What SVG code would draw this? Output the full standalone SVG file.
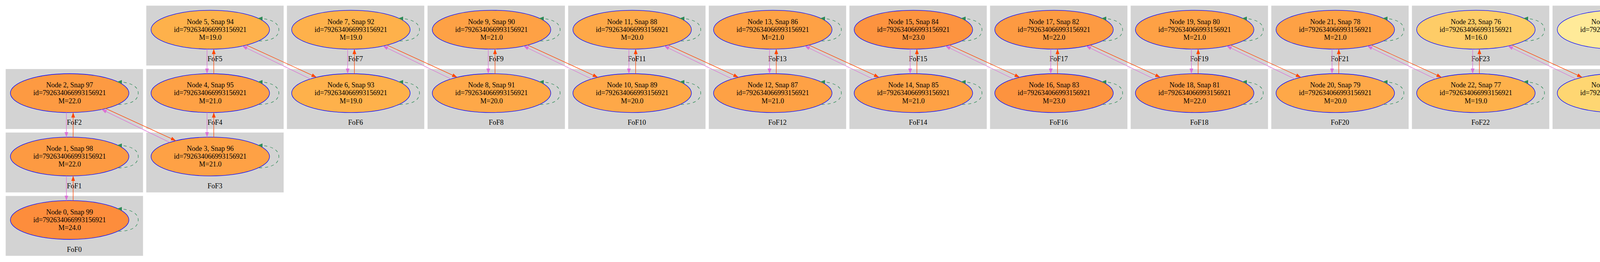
<svg xmlns="http://www.w3.org/2000/svg" width="7581" height="672" viewBox="0 0 7581 672">
<style>
.cl rect{fill:#D3D3D3;stroke:#D3D3D3;stroke-width:1}
text{font-family:"Liberation Serif","Times New Roman",serif;font-size:18px;text-anchor:middle;fill:#000}
.nd ellipse{stroke:#0000FF;stroke-width:1.3}
.or{fill:none;stroke:#FF4500;stroke-width:1.3;marker-end:url(#ah-or)}
.vi{fill:none;stroke:#DA70D6;stroke-width:1.3;marker-end:url(#ah-vi)}
.lp{fill:none;stroke:#2E8B57;stroke-width:1.3;stroke-dasharray:7.7,7.7;marker-end:url(#ah-lp)}
.m24{fill:#FD8D3C}.m23{fill:#FD933F}.m22{fill:#FD9A42}.m21{fill:#FEA145}.m20{fill:#FEA848}.m19{fill:#FEB14B}
.m16{fill:#FECC67}.m15{fill:#FED672}.m13{fill:#FEE38B}.m12{fill:#FFEA99}.m10{fill:#FFF7B9}.m9{fill:#FFFFCC}
</style>
<defs>
<marker id="ah-or" viewBox="0 0 13 10" refX="13" refY="5" markerWidth="13" markerHeight="10" markerUnits="userSpaceOnUse" orient="auto"><path d="M0,0.2L13,5L0,9.8Z" fill="#FF4500"/></marker>
<marker id="ah-vi" viewBox="0 0 13 10" refX="13" refY="5" markerWidth="13" markerHeight="10" markerUnits="userSpaceOnUse" orient="auto"><path d="M0,0.2L13,5L0,9.8Z" fill="#DA70D6"/></marker>
<marker id="ah-lp" viewBox="0 0 13 10" refX="13" refY="5" markerWidth="13" markerHeight="10" markerUnits="userSpaceOnUse" orient="auto"><path d="M0,0.2L13,5L0,9.8Z" fill="#2E8B57"/></marker>
</defs>
<rect width="7581" height="672" fill="#FFFFFF"/>
<g id="clusters">
<g id="clust0" class="cl"><rect x="15" y="503.1" width="350.7" height="152.6"/><text x="190.35" y="645.5">FoF0</text></g>
<g id="clust1" class="cl"><rect x="15" y="340.4" width="350.7" height="152.6"/><text x="190.35" y="482.8">FoF1</text></g>
<g id="clust2" class="cl"><rect x="15" y="177.7" width="350.7" height="152.6"/><text x="190.35" y="320.1">FoF2</text></g>
<g id="clust3" class="cl"><rect x="375" y="340.4" width="350.7" height="152.6"/><text x="550.35" y="482.8">FoF3</text></g>
<g id="clust4" class="cl"><rect x="375" y="177.7" width="350.7" height="152.6"/><text x="550.35" y="320.1">FoF4</text></g>
<g id="clust5" class="cl"><rect x="375" y="15" width="350.7" height="152.6"/><text x="550.35" y="157.4">FoF5</text></g>
<g id="clust6" class="cl"><rect x="735" y="177.7" width="350.7" height="152.6"/><text x="910.35" y="320.1">FoF6</text></g>
<g id="clust7" class="cl"><rect x="735" y="15" width="350.7" height="152.6"/><text x="910.35" y="157.4">FoF7</text></g>
<g id="clust8" class="cl"><rect x="1095" y="177.7" width="350.7" height="152.6"/><text x="1270.35" y="320.1">FoF8</text></g>
<g id="clust9" class="cl"><rect x="1095" y="15" width="350.7" height="152.6"/><text x="1270.35" y="157.4">FoF9</text></g>
<g id="clust10" class="cl"><rect x="1455" y="177.7" width="350.7" height="152.6"/><text x="1630.35" y="320.1">FoF10</text></g>
<g id="clust11" class="cl"><rect x="1455" y="15" width="350.7" height="152.6"/><text x="1630.35" y="157.4">FoF11</text></g>
<g id="clust12" class="cl"><rect x="1815" y="177.7" width="350.7" height="152.6"/><text x="1990.35" y="320.1">FoF12</text></g>
<g id="clust13" class="cl"><rect x="1815" y="15" width="350.7" height="152.6"/><text x="1990.35" y="157.4">FoF13</text></g>
<g id="clust14" class="cl"><rect x="2175" y="177.7" width="350.7" height="152.6"/><text x="2350.35" y="320.1">FoF14</text></g>
<g id="clust15" class="cl"><rect x="2175" y="15" width="350.7" height="152.6"/><text x="2350.35" y="157.4">FoF15</text></g>
<g id="clust16" class="cl"><rect x="2535" y="177.7" width="350.7" height="152.6"/><text x="2710.35" y="320.1">FoF16</text></g>
<g id="clust17" class="cl"><rect x="2535" y="15" width="350.7" height="152.6"/><text x="2710.35" y="157.4">FoF17</text></g>
<g id="clust18" class="cl"><rect x="2895" y="177.7" width="350.7" height="152.6"/><text x="3070.35" y="320.1">FoF18</text></g>
<g id="clust19" class="cl"><rect x="2895" y="15" width="350.7" height="152.6"/><text x="3070.35" y="157.4">FoF19</text></g>
<g id="clust20" class="cl"><rect x="3255" y="177.7" width="350.7" height="152.6"/><text x="3430.35" y="320.1">FoF20</text></g>
<g id="clust21" class="cl"><rect x="3255" y="15" width="350.7" height="152.6"/><text x="3430.35" y="157.4">FoF21</text></g>
<g id="clust22" class="cl"><rect x="3615" y="177.7" width="350.7" height="152.6"/><text x="3790.35" y="320.1">FoF22</text></g>
<g id="clust23" class="cl"><rect x="3615" y="15" width="350.7" height="152.6"/><text x="3790.35" y="157.4">FoF23</text></g>
<g id="clust24" class="cl"><rect x="3975" y="177.7" width="350.7" height="152.6"/><text x="4150.35" y="320.1">FoF24</text></g>
<g id="clust25" class="cl"><rect x="3975" y="15" width="350.7" height="152.6"/><text x="4150.35" y="157.4">FoF25</text></g>
<g id="clust26" class="cl"><rect x="4335" y="177.7" width="350.7" height="152.6"/><text x="4510.35" y="320.1">FoF26</text></g>
<g id="clust27" class="cl"><rect x="4335" y="15" width="350.7" height="152.6"/><text x="4510.35" y="157.4">FoF27</text></g>
<g id="clust28" class="cl"><rect x="4695" y="177.7" width="350.7" height="152.6"/><text x="4870.35" y="320.1">FoF28</text></g>
<g id="clust29" class="cl"><rect x="4695" y="15" width="350.7" height="152.6"/><text x="4870.35" y="157.4">FoF29</text></g>
<g id="clust30" class="cl"><rect x="5055" y="177.7" width="350.7" height="152.6"/><text x="5230.35" y="320.1">FoF30</text></g>
<g id="clust31" class="cl"><rect x="5055" y="15" width="350.7" height="152.6"/><text x="5230.35" y="157.4">FoF31</text></g>
<g id="clust32" class="cl"><rect x="5415" y="177.7" width="350.7" height="152.6"/><text x="5590.35" y="320.1">FoF32</text></g>
<g id="clust33" class="cl"><rect x="5415" y="15" width="350.7" height="152.6"/><text x="5590.35" y="157.4">FoF33</text></g>
<g id="clust34" class="cl"><rect x="5775" y="177.7" width="350.7" height="152.6"/><text x="5950.35" y="320.1">FoF34</text></g>
<g id="clust35" class="cl"><rect x="5775" y="15" width="350.7" height="152.6"/><text x="5950.35" y="157.4">FoF35</text></g>
<g id="clust36" class="cl"><rect x="6135" y="177.7" width="350.7" height="152.6"/><text x="6310.35" y="320.1">FoF36</text></g>
<g id="clust37" class="cl"><rect x="6135" y="15" width="350.7" height="152.6"/><text x="6310.35" y="157.4">FoF37</text></g>
<g id="clust38" class="cl"><rect x="6495" y="177.7" width="350.7" height="152.6"/><text x="6670.35" y="320.1">FoF38</text></g>
<g id="clust39" class="cl"><rect x="6495" y="15" width="350.7" height="152.6"/><text x="6670.35" y="157.4">FoF39</text></g>
<g id="clust40" class="cl"><rect x="6855" y="177.7" width="350.7" height="152.6"/><text x="7030.35" y="320.1">FoF40</text></g>
<g id="clust41" class="cl"><rect x="6855" y="15" width="350.7" height="152.6"/><text x="7030.35" y="157.4">FoF41</text></g>
<g id="clust42" class="cl"><rect x="7215" y="177.7" width="350.7" height="152.6"/><text x="7390.35" y="320.1">FoF42</text></g>
<g id="clust43" class="cl"><rect x="7215" y="15" width="350.7" height="152.6"/><text x="7390.35" y="157.4">FoF43</text></g>
</g>
<g id="nodes">
<g id="node0" class="nd" transform="translate(178.3,564.2)"><ellipse class="m24" rx="151.7" ry="49.8"/><text y="-14.6">Node 0, Snap 99</text><text y="5.6">id=792634066993156921</text><text y="25.8">M=24.0</text></g>
<g id="node1" class="nd" transform="translate(178.3,401.5)"><ellipse class="m22" rx="151.7" ry="49.8"/><text y="-14.6">Node 1, Snap 98</text><text y="5.6">id=792634066993156921</text><text y="25.8">M=22.0</text></g>
<g id="node2" class="nd" transform="translate(178.3,238.8)"><ellipse class="m22" rx="151.7" ry="49.8"/><text y="-14.6">Node 2, Snap 97</text><text y="5.6">id=792634066993156921</text><text y="25.8">M=22.0</text></g>
<g id="node3" class="nd" transform="translate(538.3,401.5)"><ellipse class="m21" rx="151.7" ry="49.8"/><text y="-14.6">Node 3, Snap 96</text><text y="5.6">id=792634066993156921</text><text y="25.8">M=21.0</text></g>
<g id="node4" class="nd" transform="translate(538.3,238.8)"><ellipse class="m21" rx="151.7" ry="49.8"/><text y="-14.6">Node 4, Snap 95</text><text y="5.6">id=792634066993156921</text><text y="25.8">M=21.0</text></g>
<g id="node5" class="nd" transform="translate(538.3,76.1)"><ellipse class="m19" rx="151.7" ry="49.8"/><text y="-14.6">Node 5, Snap 94</text><text y="5.6">id=792634066993156921</text><text y="25.8">M=19.0</text></g>
<g id="node6" class="nd" transform="translate(898.3,238.8)"><ellipse class="m19" rx="151.7" ry="49.8"/><text y="-14.6">Node 6, Snap 93</text><text y="5.6">id=792634066993156921</text><text y="25.8">M=19.0</text></g>
<g id="node7" class="nd" transform="translate(898.3,76.1)"><ellipse class="m19" rx="151.7" ry="49.8"/><text y="-14.6">Node 7, Snap 92</text><text y="5.6">id=792634066993156921</text><text y="25.8">M=19.0</text></g>
<g id="node8" class="nd" transform="translate(1258.3,238.8)"><ellipse class="m20" rx="151.7" ry="49.8"/><text y="-14.6">Node 8, Snap 91</text><text y="5.6">id=792634066993156921</text><text y="25.8">M=20.0</text></g>
<g id="node9" class="nd" transform="translate(1258.3,76.1)"><ellipse class="m21" rx="151.7" ry="49.8"/><text y="-14.6">Node 9, Snap 90</text><text y="5.6">id=792634066993156921</text><text y="25.8">M=21.0</text></g>
<g id="node10" class="nd" transform="translate(1618.3,238.8)"><ellipse class="m20" rx="151.7" ry="49.8"/><text y="-14.6">Node 10, Snap 89</text><text y="5.6">id=792634066993156921</text><text y="25.8">M=20.0</text></g>
<g id="node11" class="nd" transform="translate(1618.3,76.1)"><ellipse class="m20" rx="151.7" ry="49.8"/><text y="-14.6">Node 11, Snap 88</text><text y="5.6">id=792634066993156921</text><text y="25.8">M=20.0</text></g>
<g id="node12" class="nd" transform="translate(1978.3,238.8)"><ellipse class="m21" rx="151.7" ry="49.8"/><text y="-14.6">Node 12, Snap 87</text><text y="5.6">id=792634066993156921</text><text y="25.8">M=21.0</text></g>
<g id="node13" class="nd" transform="translate(1978.3,76.1)"><ellipse class="m21" rx="151.7" ry="49.8"/><text y="-14.6">Node 13, Snap 86</text><text y="5.6">id=792634066993156921</text><text y="25.8">M=21.0</text></g>
<g id="node14" class="nd" transform="translate(2338.3,238.8)"><ellipse class="m21" rx="151.7" ry="49.8"/><text y="-14.6">Node 14, Snap 85</text><text y="5.6">id=792634066993156921</text><text y="25.8">M=21.0</text></g>
<g id="node15" class="nd" transform="translate(2338.3,76.1)"><ellipse class="m23" rx="151.7" ry="49.8"/><text y="-14.6">Node 15, Snap 84</text><text y="5.6">id=792634066993156921</text><text y="25.8">M=23.0</text></g>
<g id="node16" class="nd" transform="translate(2698.3,238.8)"><ellipse class="m23" rx="151.7" ry="49.8"/><text y="-14.6">Node 16, Snap 83</text><text y="5.6">id=792634066993156921</text><text y="25.8">M=23.0</text></g>
<g id="node17" class="nd" transform="translate(2698.3,76.1)"><ellipse class="m22" rx="151.7" ry="49.8"/><text y="-14.6">Node 17, Snap 82</text><text y="5.6">id=792634066993156921</text><text y="25.8">M=22.0</text></g>
<g id="node18" class="nd" transform="translate(3058.3,238.8)"><ellipse class="m22" rx="151.7" ry="49.8"/><text y="-14.6">Node 18, Snap 81</text><text y="5.6">id=792634066993156921</text><text y="25.8">M=22.0</text></g>
<g id="node19" class="nd" transform="translate(3058.3,76.1)"><ellipse class="m21" rx="151.7" ry="49.8"/><text y="-14.6">Node 19, Snap 80</text><text y="5.6">id=792634066993156921</text><text y="25.8">M=21.0</text></g>
<g id="node20" class="nd" transform="translate(3418.3,238.8)"><ellipse class="m20" rx="151.7" ry="49.8"/><text y="-14.6">Node 20, Snap 79</text><text y="5.6">id=792634066993156921</text><text y="25.8">M=20.0</text></g>
<g id="node21" class="nd" transform="translate(3418.3,76.1)"><ellipse class="m21" rx="151.7" ry="49.8"/><text y="-14.6">Node 21, Snap 78</text><text y="5.6">id=792634066993156921</text><text y="25.8">M=21.0</text></g>
<g id="node22" class="nd" transform="translate(3778.3,238.8)"><ellipse class="m19" rx="151.7" ry="49.8"/><text y="-14.6">Node 22, Snap 77</text><text y="5.6">id=792634066993156921</text><text y="25.8">M=19.0</text></g>
<g id="node23" class="nd" transform="translate(3778.3,76.1)"><ellipse class="m16" rx="151.7" ry="49.8"/><text y="-14.6">Node 23, Snap 76</text><text y="5.6">id=792634066993156921</text><text y="25.8">M=16.0</text></g>
<g id="node24" class="nd" transform="translate(4138.3,238.8)"><ellipse class="m15" rx="151.7" ry="49.8"/><text y="-14.6">Node 24, Snap 75</text><text y="5.6">id=792634066993156921</text><text y="25.8">M=15.0</text></g>
<g id="node25" class="nd" transform="translate(4138.3,76.1)"><ellipse class="m12" rx="151.7" ry="49.8"/><text y="-14.6">Node 25, Snap 74</text><text y="5.6">id=792634066993156921</text><text y="25.8">M=12.0</text></g>
<g id="node26" class="nd" transform="translate(4498.3,238.8)"><ellipse class="m12" rx="151.7" ry="49.8"/><text y="-14.6">Node 26, Snap 73</text><text y="5.6">id=792634066993156921</text><text y="25.8">M=12.0</text></g>
<g id="node27" class="nd" transform="translate(4498.3,76.1)"><ellipse class="m13" rx="151.7" ry="49.8"/><text y="-14.6">Node 27, Snap 72</text><text y="5.6">id=792634066993156921</text><text y="25.8">M=13.0</text></g>
<g id="node28" class="nd" transform="translate(4858.3,238.8)"><ellipse class="m13" rx="151.7" ry="49.8"/><text y="-14.6">Node 28, Snap 71</text><text y="5.6">id=792634066993156921</text><text y="25.8">M=13.0</text></g>
<g id="node29" class="nd" transform="translate(4858.3,76.1)"><ellipse class="m13" rx="151.7" ry="49.8"/><text y="-14.6">Node 29, Snap 70</text><text y="5.6">id=792634066993156921</text><text y="25.8">M=13.0</text></g>
<g id="node30" class="nd" transform="translate(5218.3,238.8)"><ellipse class="m13" rx="151.7" ry="49.8"/><text y="-14.6">Node 30, Snap 69</text><text y="5.6">id=792634066993156921</text><text y="25.8">M=13.0</text></g>
<g id="node31" class="nd" transform="translate(5218.3,76.1)"><ellipse class="m12" rx="151.7" ry="49.8"/><text y="-14.6">Node 31, Snap 68</text><text y="5.6">id=792634066993156921</text><text y="25.8">M=12.0</text></g>
<g id="node32" class="nd" transform="translate(5578.3,238.8)"><ellipse class="m13" rx="151.7" ry="49.8"/><text y="-14.6">Node 32, Snap 67</text><text y="5.6">id=792634066993156921</text><text y="25.8">M=13.0</text></g>
<g id="node33" class="nd" transform="translate(5578.3,76.1)"><ellipse class="m12" rx="151.7" ry="49.8"/><text y="-14.6">Node 33, Snap 66</text><text y="5.6">id=792634066993156921</text><text y="25.8">M=12.0</text></g>
<g id="node34" class="nd" transform="translate(5938.3,238.8)"><ellipse class="m12" rx="151.7" ry="49.8"/><text y="-14.6">Node 34, Snap 65</text><text y="5.6">id=792634066993156921</text><text y="25.8">M=12.0</text></g>
<g id="node35" class="nd" transform="translate(5938.3,76.1)"><ellipse class="m9" rx="151.7" ry="49.8"/><text y="-14.6">Node 35, Snap 64</text><text y="5.6">id=792634066993156921</text><text y="25.8">M=9.0</text></g>
<g id="node36" class="nd" transform="translate(6298.3,238.8)"><ellipse class="m10" rx="151.7" ry="49.8"/><text y="-14.6">Node 36, Snap 63</text><text y="5.6">id=792634066993156921</text><text y="25.8">M=10.0</text></g>
<g id="node37" class="nd" transform="translate(6298.3,76.1)"><ellipse class="m10" rx="151.7" ry="49.8"/><text y="-14.6">Node 37, Snap 62</text><text y="5.6">id=792634066993156921</text><text y="25.8">M=10.0</text></g>
<g id="node38" class="nd" transform="translate(6658.3,238.8)"><ellipse class="m10" rx="151.7" ry="49.8"/><text y="-14.6">Node 38, Snap 61</text><text y="5.6">id=792634066993156921</text><text y="25.8">M=10.0</text></g>
<g id="node39" class="nd" transform="translate(6658.3,76.1)"><ellipse class="m10" rx="151.7" ry="49.8"/><text y="-14.6">Node 39, Snap 60</text><text y="5.6">id=792634066993156921</text><text y="25.8">M=10.0</text></g>
<g id="node40" class="nd" transform="translate(7018.3,238.8)"><ellipse class="m9" rx="151.7" ry="49.8"/><text y="-14.6">Node 40, Snap 59</text><text y="5.6">id=792634066993156921</text><text y="25.8">M=9.0</text></g>
<g id="node41" class="nd" transform="translate(7018.3,76.1)"><ellipse class="m9" rx="151.7" ry="49.8"/><text y="-14.6">Node 41, Snap 58</text><text y="5.6">id=792634066993156921</text><text y="25.8">M=9.0</text></g>
<g id="node42" class="nd" transform="translate(7378.3,238.8)"><ellipse class="m9" rx="151.7" ry="49.8"/><text y="-14.6">Node 42, Snap 57</text><text y="5.6">id=792634066993156921</text><text y="25.8">M=9.0</text></g>
<g id="node43" class="nd" transform="translate(7378.3,76.1)"><ellipse class="m10" rx="151.7" ry="49.8"/><text y="-14.6">Node 43, Snap 56</text><text y="5.6">id=792634066993156921</text><text y="25.8">M=10.0</text></g>
</g>
<g id="connectors">
<g id="vertical">
<path class="or" transform="translate(178.3,401.5)" d="M9,113V49.7"/><path class="vi" transform="translate(178.3,401.5)" d="M-8.3,49.7V113"/>
<path class="or" transform="translate(178.3,238.8)" d="M9,113V49.7"/><path class="vi" transform="translate(178.3,238.8)" d="M-8.3,49.7V113"/>
<path class="or" transform="translate(538.3,238.8)" d="M9,113V49.7"/><path class="vi" transform="translate(538.3,238.8)" d="M-8.3,49.7V113"/>
<path class="or" transform="translate(538.3,76.1)" d="M9,113V49.7"/><path class="vi" transform="translate(538.3,76.1)" d="M-8.3,49.7V113"/>
<path class="or" transform="translate(898.3,76.1)" d="M9,113V49.7"/><path class="vi" transform="translate(898.3,76.1)" d="M-8.3,49.7V113"/>
<path class="or" transform="translate(1258.3,76.1)" d="M9,113V49.7"/><path class="vi" transform="translate(1258.3,76.1)" d="M-8.3,49.7V113"/>
<path class="or" transform="translate(1618.3,76.1)" d="M9,113V49.7"/><path class="vi" transform="translate(1618.3,76.1)" d="M-8.3,49.7V113"/>
<path class="or" transform="translate(1978.3,76.1)" d="M9,113V49.7"/><path class="vi" transform="translate(1978.3,76.1)" d="M-8.3,49.7V113"/>
<path class="or" transform="translate(2338.3,76.1)" d="M9,113V49.7"/><path class="vi" transform="translate(2338.3,76.1)" d="M-8.3,49.7V113"/>
<path class="or" transform="translate(2698.3,76.1)" d="M9,113V49.7"/><path class="vi" transform="translate(2698.3,76.1)" d="M-8.3,49.7V113"/>
<path class="or" transform="translate(3058.3,76.1)" d="M9,113V49.7"/><path class="vi" transform="translate(3058.3,76.1)" d="M-8.3,49.7V113"/>
<path class="or" transform="translate(3418.3,76.1)" d="M9,113V49.7"/><path class="vi" transform="translate(3418.3,76.1)" d="M-8.3,49.7V113"/>
<path class="or" transform="translate(3778.3,76.1)" d="M9,113V49.7"/><path class="vi" transform="translate(3778.3,76.1)" d="M-8.3,49.7V113"/>
<path class="or" transform="translate(4138.3,76.1)" d="M9,113V49.7"/><path class="vi" transform="translate(4138.3,76.1)" d="M-8.3,49.7V113"/>
<path class="or" transform="translate(4498.3,76.1)" d="M9,113V49.7"/><path class="vi" transform="translate(4498.3,76.1)" d="M-8.3,49.7V113"/>
<path class="or" transform="translate(4858.3,76.1)" d="M9,113V49.7"/><path class="vi" transform="translate(4858.3,76.1)" d="M-8.3,49.7V113"/>
<path class="or" transform="translate(5218.3,76.1)" d="M9,113V49.7"/><path class="vi" transform="translate(5218.3,76.1)" d="M-8.3,49.7V113"/>
<path class="or" transform="translate(5578.3,76.1)" d="M9,113V49.7"/><path class="vi" transform="translate(5578.3,76.1)" d="M-8.3,49.7V113"/>
<path class="or" transform="translate(5938.3,76.1)" d="M9,113V49.7"/><path class="vi" transform="translate(5938.3,76.1)" d="M-8.3,49.7V113"/>
<path class="or" transform="translate(6298.3,76.1)" d="M9,113V49.7"/><path class="vi" transform="translate(6298.3,76.1)" d="M-8.3,49.7V113"/>
<path class="or" transform="translate(6658.3,76.1)" d="M9,113V49.7"/><path class="vi" transform="translate(6658.3,76.1)" d="M-8.3,49.7V113"/>
<path class="or" transform="translate(7018.3,76.1)" d="M9,113V49.7"/><path class="vi" transform="translate(7018.3,76.1)" d="M-8.3,49.7V113"/>
<path class="or" transform="translate(7378.3,76.1)" d="M9,113V49.7"/><path class="vi" transform="translate(7378.3,76.1)" d="M-8.3,49.7V113"/>
</g>
<g id="diagonal">
<path class="or" transform="translate(178.3,238.8)" d="M92.5,39.5L272,122.1"/><path class="vi" transform="translate(178.3,238.8)" d="M256,126.4L82,41.9"/>
<path class="or" transform="translate(538.3,76.1)" d="M92.5,39.5L272,122.1"/><path class="vi" transform="translate(538.3,76.1)" d="M256,126.4L82,41.9"/>
<path class="or" transform="translate(898.3,76.1)" d="M92.5,39.5L272,122.1"/><path class="vi" transform="translate(898.3,76.1)" d="M256,126.4L82,41.9"/>
<path class="or" transform="translate(1258.3,76.1)" d="M92.5,39.5L272,122.1"/><path class="vi" transform="translate(1258.3,76.1)" d="M256,126.4L82,41.9"/>
<path class="or" transform="translate(1618.3,76.1)" d="M92.5,39.5L272,122.1"/><path class="vi" transform="translate(1618.3,76.1)" d="M256,126.4L82,41.9"/>
<path class="or" transform="translate(1978.3,76.1)" d="M92.5,39.5L272,122.1"/><path class="vi" transform="translate(1978.3,76.1)" d="M256,126.4L82,41.9"/>
<path class="or" transform="translate(2338.3,76.1)" d="M92.5,39.5L272,122.1"/><path class="vi" transform="translate(2338.3,76.1)" d="M256,126.4L82,41.9"/>
<path class="or" transform="translate(2698.3,76.1)" d="M92.5,39.5L272,122.1"/><path class="vi" transform="translate(2698.3,76.1)" d="M256,126.4L82,41.9"/>
<path class="or" transform="translate(3058.3,76.1)" d="M92.5,39.5L272,122.1"/><path class="vi" transform="translate(3058.3,76.1)" d="M256,126.4L82,41.9"/>
<path class="or" transform="translate(3418.3,76.1)" d="M92.5,39.5L272,122.1"/><path class="vi" transform="translate(3418.3,76.1)" d="M256,126.4L82,41.9"/>
<path class="or" transform="translate(3778.3,76.1)" d="M92.5,39.5L272,122.1"/><path class="vi" transform="translate(3778.3,76.1)" d="M256,126.4L82,41.9"/>
<path class="or" transform="translate(4138.3,76.1)" d="M92.5,39.5L272,122.1"/><path class="vi" transform="translate(4138.3,76.1)" d="M256,126.4L82,41.9"/>
<path class="or" transform="translate(4498.3,76.1)" d="M92.5,39.5L272,122.1"/><path class="vi" transform="translate(4498.3,76.1)" d="M256,126.4L82,41.9"/>
<path class="or" transform="translate(4858.3,76.1)" d="M92.5,39.5L272,122.1"/><path class="vi" transform="translate(4858.3,76.1)" d="M256,126.4L82,41.9"/>
<path class="or" transform="translate(5218.3,76.1)" d="M92.5,39.5L272,122.1"/><path class="vi" transform="translate(5218.3,76.1)" d="M256,126.4L82,41.9"/>
<path class="or" transform="translate(5578.3,76.1)" d="M92.5,39.5L272,122.1"/><path class="vi" transform="translate(5578.3,76.1)" d="M256,126.4L82,41.9"/>
<path class="or" transform="translate(5938.3,76.1)" d="M92.5,39.5L272,122.1"/><path class="vi" transform="translate(5938.3,76.1)" d="M256,126.4L82,41.9"/>
<path class="or" transform="translate(6298.3,76.1)" d="M92.5,39.5L272,122.1"/><path class="vi" transform="translate(6298.3,76.1)" d="M256,126.4L82,41.9"/>
<path class="or" transform="translate(6658.3,76.1)" d="M92.5,39.5L272,122.1"/><path class="vi" transform="translate(6658.3,76.1)" d="M256,126.4L82,41.9"/>
<path class="or" transform="translate(7018.3,76.1)" d="M92.5,39.5L272,122.1"/><path class="vi" transform="translate(7018.3,76.1)" d="M256,126.4L82,41.9"/>
</g>
<g id="selfloops">
<path class="lp" transform="translate(178.3,564.2)" d="M125,29C150,29 175.5,22 175.5,0C175.5,-20 150,-28.8 121,-28.8"/>
<path class="lp" transform="translate(178.3,401.5)" d="M125,29C150,29 175.5,22 175.5,0C175.5,-20 150,-28.8 121,-28.8"/>
<path class="lp" transform="translate(178.3,238.8)" d="M125,29C150,29 175.5,22 175.5,0C175.5,-20 150,-28.8 121,-28.8"/>
<path class="lp" transform="translate(538.3,401.5)" d="M125,29C150,29 175.5,22 175.5,0C175.5,-20 150,-28.8 121,-28.8"/>
<path class="lp" transform="translate(538.3,238.8)" d="M125,29C150,29 175.5,22 175.5,0C175.5,-20 150,-28.8 121,-28.8"/>
<path class="lp" transform="translate(538.3,76.1)" d="M125,29C150,29 175.5,22 175.5,0C175.5,-20 150,-28.8 121,-28.8"/>
<path class="lp" transform="translate(898.3,238.8)" d="M125,29C150,29 175.5,22 175.5,0C175.5,-20 150,-28.8 121,-28.8"/>
<path class="lp" transform="translate(898.3,76.1)" d="M125,29C150,29 175.5,22 175.5,0C175.5,-20 150,-28.8 121,-28.8"/>
<path class="lp" transform="translate(1258.3,238.8)" d="M125,29C150,29 175.5,22 175.5,0C175.5,-20 150,-28.8 121,-28.8"/>
<path class="lp" transform="translate(1258.3,76.1)" d="M125,29C150,29 175.5,22 175.5,0C175.5,-20 150,-28.8 121,-28.8"/>
<path class="lp" transform="translate(1618.3,238.8)" d="M125,29C150,29 175.5,22 175.5,0C175.5,-20 150,-28.8 121,-28.8"/>
<path class="lp" transform="translate(1618.3,76.1)" d="M125,29C150,29 175.5,22 175.5,0C175.5,-20 150,-28.8 121,-28.8"/>
<path class="lp" transform="translate(1978.3,238.8)" d="M125,29C150,29 175.5,22 175.5,0C175.5,-20 150,-28.8 121,-28.8"/>
<path class="lp" transform="translate(1978.3,76.1)" d="M125,29C150,29 175.5,22 175.5,0C175.5,-20 150,-28.8 121,-28.8"/>
<path class="lp" transform="translate(2338.3,238.8)" d="M125,29C150,29 175.5,22 175.5,0C175.5,-20 150,-28.8 121,-28.8"/>
<path class="lp" transform="translate(2338.3,76.1)" d="M125,29C150,29 175.5,22 175.5,0C175.5,-20 150,-28.8 121,-28.8"/>
<path class="lp" transform="translate(2698.3,238.8)" d="M125,29C150,29 175.5,22 175.5,0C175.5,-20 150,-28.8 121,-28.8"/>
<path class="lp" transform="translate(2698.3,76.1)" d="M125,29C150,29 175.5,22 175.5,0C175.5,-20 150,-28.8 121,-28.8"/>
<path class="lp" transform="translate(3058.3,238.8)" d="M125,29C150,29 175.5,22 175.5,0C175.5,-20 150,-28.8 121,-28.8"/>
<path class="lp" transform="translate(3058.3,76.1)" d="M125,29C150,29 175.5,22 175.5,0C175.5,-20 150,-28.8 121,-28.8"/>
<path class="lp" transform="translate(3418.3,238.8)" d="M125,29C150,29 175.5,22 175.5,0C175.5,-20 150,-28.8 121,-28.8"/>
<path class="lp" transform="translate(3418.3,76.1)" d="M125,29C150,29 175.5,22 175.5,0C175.5,-20 150,-28.8 121,-28.8"/>
<path class="lp" transform="translate(3778.3,238.8)" d="M125,29C150,29 175.5,22 175.5,0C175.5,-20 150,-28.8 121,-28.8"/>
<path class="lp" transform="translate(3778.3,76.1)" d="M125,29C150,29 175.5,22 175.5,0C175.5,-20 150,-28.8 121,-28.8"/>
<path class="lp" transform="translate(4138.3,238.8)" d="M125,29C150,29 175.5,22 175.5,0C175.5,-20 150,-28.8 121,-28.8"/>
<path class="lp" transform="translate(4138.3,76.1)" d="M125,29C150,29 175.5,22 175.5,0C175.5,-20 150,-28.8 121,-28.8"/>
<path class="lp" transform="translate(4498.3,238.8)" d="M125,29C150,29 175.5,22 175.5,0C175.5,-20 150,-28.8 121,-28.8"/>
<path class="lp" transform="translate(4498.3,76.1)" d="M125,29C150,29 175.5,22 175.5,0C175.5,-20 150,-28.8 121,-28.8"/>
<path class="lp" transform="translate(4858.3,238.8)" d="M125,29C150,29 175.5,22 175.5,0C175.5,-20 150,-28.8 121,-28.8"/>
<path class="lp" transform="translate(4858.3,76.1)" d="M125,29C150,29 175.5,22 175.5,0C175.5,-20 150,-28.8 121,-28.8"/>
<path class="lp" transform="translate(5218.3,238.8)" d="M125,29C150,29 175.5,22 175.5,0C175.5,-20 150,-28.8 121,-28.8"/>
<path class="lp" transform="translate(5218.3,76.1)" d="M125,29C150,29 175.5,22 175.5,0C175.5,-20 150,-28.8 121,-28.8"/>
<path class="lp" transform="translate(5578.3,238.8)" d="M125,29C150,29 175.5,22 175.5,0C175.5,-20 150,-28.8 121,-28.8"/>
<path class="lp" transform="translate(5578.3,76.1)" d="M125,29C150,29 175.5,22 175.5,0C175.5,-20 150,-28.8 121,-28.8"/>
<path class="lp" transform="translate(5938.3,238.8)" d="M125,29C150,29 175.5,22 175.5,0C175.5,-20 150,-28.8 121,-28.8"/>
<path class="lp" transform="translate(5938.3,76.1)" d="M125,29C150,29 175.5,22 175.5,0C175.5,-20 150,-28.8 121,-28.8"/>
<path class="lp" transform="translate(6298.3,238.8)" d="M125,29C150,29 175.5,22 175.5,0C175.5,-20 150,-28.8 121,-28.8"/>
<path class="lp" transform="translate(6298.3,76.1)" d="M125,29C150,29 175.5,22 175.5,0C175.5,-20 150,-28.8 121,-28.8"/>
<path class="lp" transform="translate(6658.3,238.8)" d="M125,29C150,29 175.5,22 175.5,0C175.5,-20 150,-28.8 121,-28.8"/>
<path class="lp" transform="translate(6658.3,76.1)" d="M125,29C150,29 175.5,22 175.5,0C175.5,-20 150,-28.8 121,-28.8"/>
<path class="lp" transform="translate(7018.3,238.8)" d="M125,29C150,29 175.5,22 175.5,0C175.5,-20 150,-28.8 121,-28.8"/>
<path class="lp" transform="translate(7018.3,76.1)" d="M125,29C150,29 175.5,22 175.5,0C175.5,-20 150,-28.8 121,-28.8"/>
<path class="lp" transform="translate(7378.3,238.8)" d="M125,29C150,29 175.5,22 175.5,0C175.5,-20 150,-28.8 121,-28.8"/>
<path class="lp" transform="translate(7378.3,76.1)" d="M125,29C150,29 175.5,22 175.5,0C175.5,-20 150,-28.8 121,-28.8"/>
</g>
</g>
</svg>
